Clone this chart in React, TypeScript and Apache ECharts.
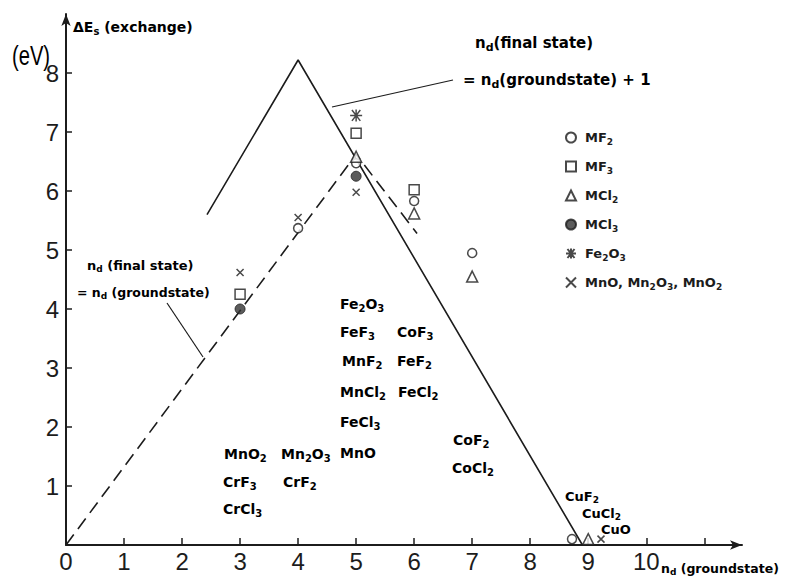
import React, { useEffect, useRef } from 'react';
import * as echarts from 'echarts';

// ---- axis ticks / labels ----
const xTickValues = [1, 2, 3, 4, 5, 6, 7, 8, 9, 10, 11];
const xLabelValues = [0, 1, 2, 3, 4, 5, 6, 7, 8, 9, 10];
const yTickValues = [1, 2, 3, 4, 5, 6, 7, 8];
const yLabelValues = [1, 2, 3, 4, 5, 6, 7, 8];

// ---- measured points (n_d, ΔE_s in eV) ----
const mf2 = [[4, 5.37], [5, 6.47], [6, 5.83], [7, 4.95], [8.72, 0.1]];
const mf3 = [[3, 4.25], [5, 6.98], [6, 6.02]];
const mcl2 = [[5, 6.58], [6, 5.62], [7, 4.55], [9.0, 0.1]];
const mcl3 = [[3, 4.0], [5, 6.25]];
const fe2o3 = [[5, 7.28]];
const mnOxides = [[3, 4.62], [4, 5.55], [5, 5.98], [9.22, 0.1]];

// ---- theory lines ----
const finalPlusOne = [[2.43, 5.6], [4, 8.22], [8.9, 0]];
const finalEqualGround = [[0, 0], [5, 6.62], [6.05, 5.28]];

// ---- legend labels ----
const seriesNames = ['MF2', 'MF3', 'MCl2', 'MCl3', 'Fe2O3', 'MnO'];
const legendLabels = ['MF_2', 'MF_3', 'MCl_2', 'MCl_3', 'Fe_2O_3', 'MnO, Mn_2O_3, MnO_2'];

// ---- compound annotations (text, pixel anchor, font size) ----
const compoundLabels: [string, number, number, number][] = [
  ['Fe_2O_3', 340, 304, 14],
  ['FeF_3', 340, 332, 14],
  ['CoF_3', 397, 332, 14],
  ['MnF_2', 342, 361, 14],
  ['FeF_2', 397, 361, 14],
  ['MnCl_2', 340, 392, 14],
  ['FeCl_2', 398, 392, 14],
  ['FeCl_3', 340, 422, 14],
  ['MnO', 340, 453, 14],
  ['MnO_2', 224, 454, 14],
  ['Mn_2O_3', 281, 454, 14],
  ['CrF_3', 223, 482, 14],
  ['CrF_2', 283, 482, 14],
  ['CrCl_3', 223, 509, 14],
  ['CoF_2', 453, 440, 14],
  ['CoCl_2', 452, 468, 14],
  ['CuF_2', 565, 496, 13],
  ['CuCl_2', 582, 513, 13],
  ['CuO', 601, 529, 13],
];

const INK = '#1c1c1c';
const SANS = "'DejaVu Sans', 'Liberation Sans', sans-serif";
const NUM = "'Liberation Sans', 'Roboto', sans-serif";

function toRich(s: string): string {
  let out = '';
  let buf = '';
  for (let i = 0; i < s.length; i++) {
    if (s[i] === '_' && i + 1 < s.length) {
      if (buf) { out += `{b|${buf}}`; buf = ''; }
      out += `{s|${s[i + 1]}}`;
      i++;
    } else {
      buf += s[i];
    }
  }
  if (buf) out += `{b|${buf}}`;
  return out;
}

function richStyles(size: number, weight: any = 'bold', family: string = SANS) {
  const sub = Math.round(size * 0.72);
  return {
    b: { fontSize: size, lineHeight: size, fontFamily: family, fontWeight: weight, color: INK },
    s: { fontSize: sub, lineHeight: sub, fontFamily: family, fontWeight: weight, color: INK, padding: [Math.round(size * 0.6), 0, 0, 0] },
  };
}

function textEl(s: string, x: number, y: number, size: number, weight: any = 'bold', family: string = SANS, scaleX = 1) {
  return {
    type: 'text',
    x,
    y,
    scaleX,
    silent: true,
    style: { text: toRich(s), rich: richStyles(size, weight, family), verticalAlign: 'middle', align: 'left' },
  };
}

const asteriskPath = 'path://M0,5L10,5M1.5,0.5L8.5,9.5M8.5,0.5L1.5,9.5M5,0L5,10';
const crossPath = 'path://M0,0L10,10M10,0L0,10';

export default function App() {
  const ref = useRef<HTMLDivElement>(null);
  useEffect(() => {
    document.body.style.margin = '0';
    const chart = echarts.init(ref.current!, undefined, { renderer: 'svg' });
    const openStyle = { color: '#fff', borderColor: INK, borderWidth: 1.5 };
    const strokeStyle = { color: 'rgba(0,0,0,0)', borderColor: INK, borderWidth: 1.5 };
    const scatterBase = { type: 'scatter', z: 5, silent: true };
    const graphics: any[] = [
      textEl('ΔE_s (exchange)', 73, 27, 14),
      textEl('(eV)', 12, 55, 28, 'normal', NUM, 0.72),
      textEl('n_d(final state)', 475, 43, 15),
      textEl('= n_d(groundstate) + 1', 463, 80, 15),
      textEl('n_d (final state)', 87, 265, 13),
      textEl('= n_d (groundstate)', 77, 292, 12.5),
      textEl('n_d (groundstate)', 661, 568, 12.5),
      { type: 'line', silent: true, shape: { x1: 332, y1: 107, x2: 453, y2: 80 }, style: { stroke: INK, lineWidth: 1.2 } },
      { type: 'line', silent: true, shape: { x1: 167, y1: 303, x2: 203, y2: 357 }, style: { stroke: INK, lineWidth: 1.2 } },
    ];
    compoundLabels.forEach(([t, x, y, size]) => graphics.push(textEl(t, x, y, size)));

    chart.setOption({
      animation: false,
      backgroundColor: '#fff',
      textStyle: { fontFamily: SANS },
      grid: { left: 66, right: 51, top: 14, bottom: 35, containLabel: false },
      xAxis: {
        type: 'value',
        min: 0,
        max: 11.65,
        interval: 1,
        splitLine: { show: false },
        axisLine: { show: true, lineStyle: { color: INK, width: 2 }, symbol: ['none', 'arrow'], symbolSize: [7, 12] },
        axisTick: { show: true, inside: true, length: 7, lineStyle: { color: INK, width: 1.5 }, customValues: xTickValues },
        axisLabel: { show: true, margin: 4, fontSize: 24, fontFamily: NUM, color: INK, customValues: xLabelValues },
      },
      yAxis: {
        type: 'value',
        min: 0,
        max: 9,
        interval: 1,
        splitLine: { show: false },
        axisLine: { show: true, lineStyle: { color: INK, width: 2 }, symbol: ['none', 'arrow'], symbolSize: [7, 12] },
        axisTick: { show: true, inside: true, length: 6, lineStyle: { color: INK, width: 1.5 }, customValues: yTickValues },
        axisLabel: { show: true, margin: 7, fontSize: 24, fontFamily: NUM, color: INK, customValues: yLabelValues },
      },
      legend: {
        data: seriesNames,
        orient: 'vertical',
        left: 560,
        top: 124,
        itemWidth: 10,
        itemHeight: 10,
        itemGap: 12,
        selectedMode: false,
        formatter: (name: string) => toRich(legendLabels[seriesNames.indexOf(name)]),
        textStyle: { color: INK, padding: [0, 0, 0, 4], rich: richStyles(13) },
      },
      graphic: graphics,
      series: [
        {
          type: 'line', name: 'final = ground + 1', data: finalPlusOne, symbol: 'none', silent: true,
          lineStyle: { color: INK, width: 1.6 }, z: 3,
        },
        {
          type: 'line', name: 'final = ground', data: finalEqualGround, symbol: 'none', silent: true,
          lineStyle: { color: INK, width: 1.6, type: [13, 7] }, z: 3,
        },
        { ...scatterBase, name: 'MF2', data: mf2, symbol: 'circle', symbolSize: 9, itemStyle: openStyle },
        { ...scatterBase, name: 'MF3', data: mf3, symbol: 'rect', symbolSize: 10, itemStyle: openStyle },
        { ...scatterBase, name: 'MCl2', data: mcl2, symbol: 'triangle', symbolSize: 11, itemStyle: openStyle },
        { ...scatterBase, name: 'MCl3', data: mcl3, symbol: 'circle', symbolSize: 10, itemStyle: { color: '#333', borderColor: INK, borderWidth: 1 } },
        { ...scatterBase, name: 'Fe2O3', data: fe2o3, symbol: asteriskPath, symbolSize: 12, itemStyle: strokeStyle },
        { ...scatterBase, name: 'MnO', data: mnOxides, symbol: crossPath, symbolSize: 7, itemStyle: strokeStyle },
      ],
    });
    return () => chart.dispose();
  }, []);
  return <div ref={ref} style={{ width: 793, height: 580, position: 'fixed', left: 0, top: 0 }} />;
}
